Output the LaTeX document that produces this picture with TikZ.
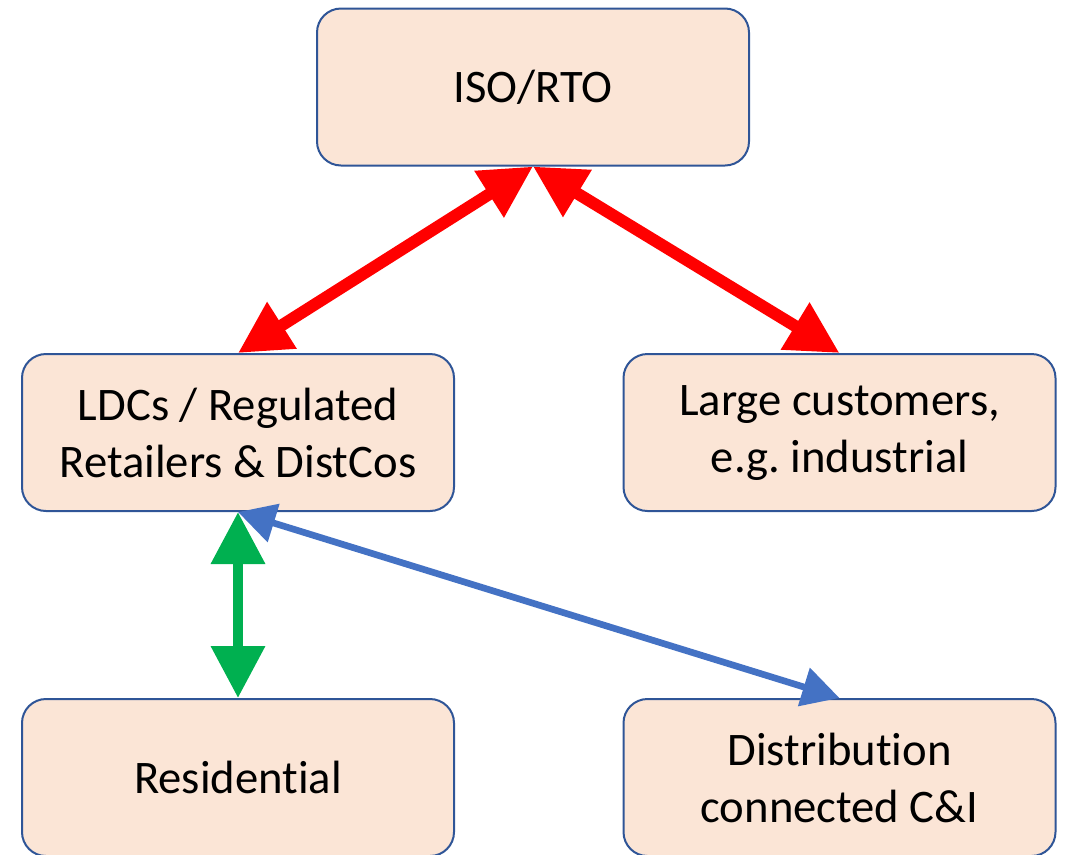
\documentclass[tikz,border=0pt]{standalone}
\usepackage{fontspec}
\setmainfont{Carlito}[Ligatures={NoCommon}]
\usetikzlibrary{arrows.meta}
\definecolor{boxfill}{HTML}{FBE5D6}
\definecolor{boxline}{HTML}{2F5597}
\definecolor{linkred}{HTML}{FF0000}
\definecolor{linkgreen}{HTML}{00B050}
\definecolor{linkblue}{HTML}{4472C4}
\begin{document}
\begin{tikzpicture}[x=0.75pt, y=-0.75pt,
	box/.style = {draw = boxline, fill = boxfill, line width = 1.5pt, rounded corners = 18pt,
		minimum width = 324pt, minimum height = 117.75pt, align = center,
		font = \fontsize{35}{42.7}\selectfont},
	redlink/.style = {linkred, line width = 9pt, {Triangle[length=39pt, width=39pt]}-{Triangle[length=39pt, width=39pt]}},
	greenlink/.style = {linkgreen, line width = 7.5pt, {Triangle[length=39pt, width=39pt]}-{Triangle[length=39pt, width=39pt]}},
	bluelink/.style = {linkblue, line width = 5pt, {Triangle[length=28pt, width=29pt]}-{Triangle[length=28pt, width=29pt]}}]
\clip (0,0) rectangle (1066,854);
\node[box] (iso) at (533,87) {ISO/RTO};
\node[box] (ldc) at (238,432.5) {LDCs / Regulated\\Retailers \& DistCos};
\node[box] (large) at (839.5,432.5) {\raisebox{-2pt}{\begin{tabular}{@{}c@{}}Large customers,\\e.g.\ industrial\end{tabular}}};
\node[box] (res) at (238,777.5) {Residential};
\node[box] (dist) at (839.5,777.5) {Distribution\\connected C\&I};
\draw[redlink] (ldc.north) -- (iso.south);
\draw[redlink] (iso.south) -- (large.north);
\draw[greenlink] (ldc.south) -- (res.north);
\draw[bluelink] (ldc.south) -- (dist.north);
\end{tikzpicture}
\end{document}
